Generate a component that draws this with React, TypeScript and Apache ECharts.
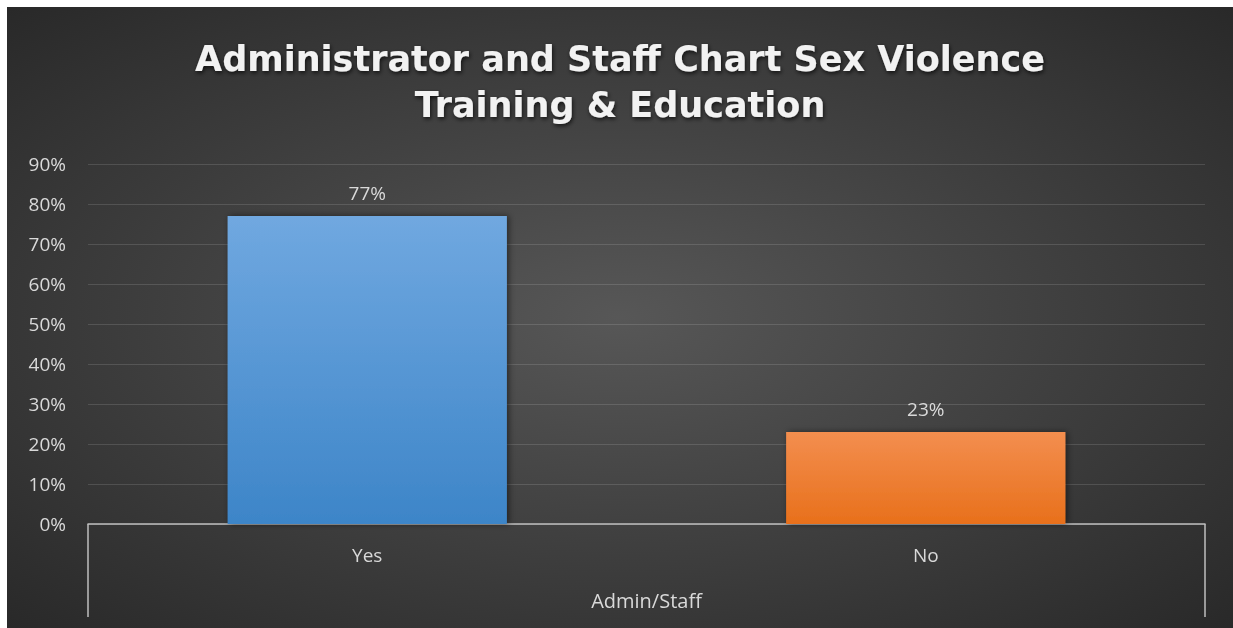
import React, { useEffect, useRef } from "react";
import * as echarts from "echarts";

const categories = ["Yes", "No"];
const groupLabels = ["Admin/Staff"];
const values = [77, 23];
const titleLines = ["Administrator and Staff Chart Sex Violence", "Training & Education"];

export default function App() {
  const ref = useRef<HTMLDivElement>(null);
  useEffect(() => {
    const chart = echarts.init(ref.current!, null, { renderer: "svg" });
    const barColors = [
      ["#70a8e0", "#3d85c8"],
      ["#f38e4f", "#e8701b"],
    ];
    const font = "Open Sans";
    chart.setOption({
      animation: false,
      backgroundColor: {
        type: "radial",
        x: 0.5,
        y: 0.5,
        r: 0.75,
        colorStops: [
          { offset: 0, color: "#575757" },
          { offset: 1, color: "#262626" },
        ],
      },
      title: {
        text: titleLines.join("\n"),
        left: "center",
        top: 24,
        textStyle: {
          color: "#f2f2f2",
          fontFamily: "DejaVu Sans",
          fontWeight: "bold",
          fontSize: 35,
          lineHeight: 46,
          textShadowColor: "rgba(0,0,0,0.7)",
          textShadowBlur: 4,
          textShadowOffsetX: 1,
          textShadowOffsetY: 2,
        },
      },
      grid: { left: 81, right: 28, top: 157, bottom: 104, containLabel: false },
      xAxis: [
        {
          type: "category",
          data: categories,
          position: "bottom",
          axisLine: { show: true, lineStyle: { color: "#bfbfbf", width: 1.5 } },
          axisTick: { show: false },
          axisLabel: { color: "#d9d9d9", fontSize: 19, fontFamily: font, margin: 21 },
        },
        {
          type: "category",
          data: groupLabels,
          position: "bottom",
          axisLine: { show: false },
          axisTick: { show: true, length: 93, lineStyle: { color: "#bfbfbf", width: 1.5 } },
          axisLabel: { color: "#d9d9d9", fontSize: 20, fontFamily: font, margin: 66 },
        },
      ],
      yAxis: {
        type: "value",
        min: 0,
        max: 90,
        interval: 10,
        axisLine: { show: false },
        axisTick: { show: false },
        axisLabel: {
          color: "#d9d9d9",
          fontSize: 19,
          fontFamily: font,
          margin: 22,
          formatter: "{value}%",
        },
        splitLine: { lineStyle: { color: "rgba(255,255,255,0.13)", width: 1 } },
      },
      series: [
        {
          type: "bar",
          xAxisIndex: 0,
          barWidth: "50%",
          data: values.map((v, i) => ({
            value: v,
            itemStyle: {
              color: {
                type: "linear",
                x: 0,
                y: 0,
                x2: 0,
                y2: 1,
                colorStops: [
                  { offset: 0, color: barColors[i][0] },
                  { offset: 1, color: barColors[i][1] },
                ],
              },
              shadowColor: "rgba(0,0,0,0.5)",
              shadowBlur: 6,
              shadowOffsetX: 2,
              shadowOffsetY: 0,
            },
          })),
          label: {
            show: true,
            position: "top",
            distance: 14,
            color: "#d9d9d9",
            fontSize: 19,
            fontFamily: font,
            formatter: "{c}%",
          },
        },
      ],
    });
    return () => chart.dispose();
  }, []);
  return (
    <div
      ref={ref}
      style={{ position: "fixed", left: 7, top: 7, width: 1226, height: 621 }}
    />
  );
}
